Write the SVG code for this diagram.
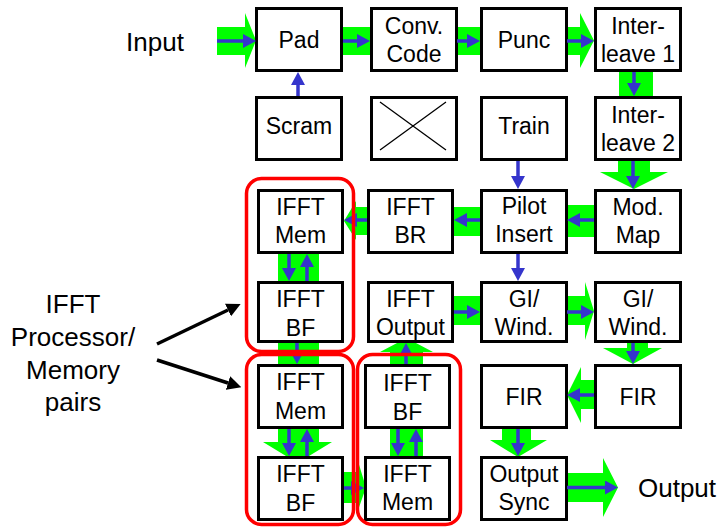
<svg xmlns="http://www.w3.org/2000/svg" width="720" height="529" viewBox="0 0 720 529">
  <style>
    .box { fill: #ffffff; stroke: #000000; stroke-width: 3; }
    .lbl { font-family: "Liberation Sans", Arial, sans-serif; font-size: 23px; fill: #000000; text-anchor: middle; }
    .big { font-family: "Liberation Sans", Arial, sans-serif; font-size: 26px; fill: #000000; text-anchor: middle; }
    .bus { fill: #00ff00; stroke: none; }
    .sig { stroke: #3535cc; stroke-width: 3.5; fill: none; marker-end: url(#bluehead); }
    .ptr { stroke: #000000; stroke-width: 3.5; fill: none; marker-end: url(#blackhead); }
    .pair { fill: none; stroke: #ff0000; stroke-width: 3.5; }
  </style>
  <defs>
    <marker id="bluehead" markerUnits="userSpaceOnUse" markerWidth="13" markerHeight="14" refX="0" refY="7" orient="auto">
      <path d="M0,0 L13,7 L0,14 Z" fill="#3535cc"/>
    </marker>
    <marker id="blackhead" markerUnits="userSpaceOnUse" markerWidth="14" markerHeight="14" refX="0" refY="7" orient="auto">
      <path d="M0,0 L14,7 L0,14 Z" fill="#000000"/>
    </marker>
  </defs>
  <rect width="720" height="529" fill="#ffffff"/>

  <!-- wide data paths (drawn beneath the blocks) -->
  <g id="datapaths">
    <path class="bus" d="M217,27 H245 V13 L256,40.5 L245,68 V55 H217 Z"/>
    <rect class="bus" x="341" y="27" width="32" height="28"/>
    <rect class="bus" x="455" y="27" width="28" height="28"/>
    <path class="bus" d="M565,27 H580 V13 L594,40.5 L580,68 V55 H565 Z"/>
    <rect class="bus" x="619" y="70" width="34" height="28"/>
    <path class="bus" d="M618,159 H650 V172 H668 L634,189 L600,172 H618 Z"/>
    <rect class="bus" x="565" y="205" width="31" height="32"/>
    <rect class="bus" x="452" y="207" width="30" height="29"/>
    <path class="bus" d="M369,207 H356 V201 L344,221 L356,240 V235 H369 Z"/>
    <rect class="bus" x="278" y="252" width="41" height="31"/>
    <rect class="bus" x="452" y="296" width="30" height="29"/>
    <path class="bus" d="M565,296 H585 V282 L594,311 L585,340 V325 H565 Z"/>
    <path class="bus" d="M627,341 H648 V348 H662 L633,364 L603,348 H627 Z"/>
    <path class="bus" d="M596,380 H581 V367 L567,395 L581,423 V409 H596 Z"/>
    <path class="bus" d="M502,427 H531 V440 H547 L518,457 L490,440 H502 Z"/>
    <path class="bus" d="M565,473 H603 V458 L618,487.5 L603,517 V502 H565 Z"/>
    <rect class="bus" x="278" y="341" width="41" height="25"/>
    <path class="bus" d="M278,427 H319 V442 H332 L297.5,463 L263,442 H278 Z"/>
    <path class="bus" d="M342,472 H357 V458 L366,487.5 L357,513 V503 H342 Z"/>
    <rect class="bus" x="390" y="427" width="33" height="31"/>
    <path class="bus" d="M390,366 H423 V352 H433 L406.5,338 L380,352 H390 Z"/>
  </g>

  <!-- row 1 -->
  <g id="pad"><rect class="box" x="256.5" y="8.5" width="85" height="62"/><text class="lbl" x="299" y="48">Pad</text></g>
  <g id="conv"><rect class="box" x="371.5" y="8.5" width="85" height="62"/><text class="lbl" x="414" y="34">Conv.</text><text class="lbl" x="414" y="62">Code</text></g>
  <g id="punc"><rect class="box" x="481.5" y="8.5" width="85" height="62"/><text class="lbl" x="524" y="48">Punc</text></g>
  <g id="interleave1"><rect class="box" x="595.5" y="8.5" width="85" height="62"/><text class="lbl" x="638" y="34">Inter-</text><text class="lbl" x="638" y="62">leave 1</text></g>

  <!-- row 2 -->
  <g id="scram"><rect class="box" x="256.5" y="97.5" width="85" height="62"/><text class="lbl" x="299" y="134">Scram</text></g>
  <g id="unused"><rect class="box" x="371.5" y="97.5" width="85" height="62"/><path d="M380,102 L446,150 M380,150 L446,102" stroke="#000000" stroke-width="1.3"/></g>
  <g id="train"><rect class="box" x="481.5" y="97.5" width="85" height="62"/><text class="lbl" x="524" y="134">Train</text></g>
  <g id="interleave2"><rect class="box" x="595.5" y="97.5" width="85" height="62"/><text class="lbl" x="638" y="123">Inter-</text><text class="lbl" x="638" y="151">leave 2</text></g>

  <!-- row 3 -->
  <g id="ifft-mem-1"><rect class="box" x="258.5" y="190.5" width="84" height="62"/><text class="lbl" x="300.5" y="215">IFFT</text><text class="lbl" x="300.5" y="243">Mem</text></g>
  <g id="ifft-br"><rect class="box" x="368.5" y="190.5" width="84" height="62"/><text class="lbl" x="410.5" y="215">IFFT</text><text class="lbl" x="410.5" y="243">BR</text></g>
  <g id="pilot"><rect class="box" x="481.5" y="190.5" width="85" height="62"/><text class="lbl" x="524" y="214">Pilot</text><text class="lbl" x="524" y="242">Insert</text></g>
  <g id="modmap"><rect class="box" x="595.5" y="190.5" width="85" height="62"/><text class="lbl" x="638" y="215">Mod.</text><text class="lbl" x="638" y="243">Map</text></g>

  <!-- row 4 -->
  <g id="ifft-bf-1"><rect class="box" x="258.5" y="282.5" width="84" height="59"/><text class="lbl" x="300.5" y="307">IFFT</text><text class="lbl" x="300.5" y="336">BF</text></g>
  <g id="ifft-output"><rect class="box" x="368.5" y="282.5" width="84" height="59"/><text class="lbl" x="410.5" y="307">IFFT</text><text class="lbl" x="410.5" y="335">Output</text></g>
  <g id="gi-wind-1"><rect class="box" x="481.5" y="282.5" width="85" height="59"/><text class="lbl" x="524" y="307">GI/</text><text class="lbl" x="524" y="335">Wind.</text></g>
  <g id="gi-wind-2"><rect class="box" x="595.5" y="282.5" width="85" height="59"/><text class="lbl" x="638" y="307">GI/</text><text class="lbl" x="638" y="335">Wind.</text></g>

  <!-- row 5 -->
  <g id="ifft-mem-2"><rect class="box" x="258.5" y="365.5" width="84" height="62"/><text class="lbl" x="300.5" y="390">IFFT</text><text class="lbl" x="300.5" y="419">Mem</text></g>
  <g id="ifft-bf-3"><rect class="box" x="365.5" y="365.5" width="84" height="62"/><text class="lbl" x="407.5" y="391">IFFT</text><text class="lbl" x="407.5" y="420">BF</text></g>
  <g id="fir-1"><rect class="box" x="481.5" y="365.5" width="85" height="62"/><text class="lbl" x="524" y="405">FIR</text></g>
  <g id="fir-2"><rect class="box" x="595.5" y="365.5" width="85" height="62"/><text class="lbl" x="638" y="405">FIR</text></g>

  <!-- row 6 -->
  <g id="ifft-bf-2"><rect class="box" x="258.5" y="457.5" width="84" height="62"/><text class="lbl" x="300.5" y="482">IFFT</text><text class="lbl" x="300.5" y="511">BF</text></g>
  <g id="ifft-mem-3"><rect class="box" x="365.5" y="457.5" width="84" height="62"/><text class="lbl" x="407.5" y="482">IFFT</text><text class="lbl" x="407.5" y="510">Mem</text></g>
  <g id="output-sync"><rect class="box" x="481.5" y="457.5" width="85" height="62"/><text class="lbl" x="524" y="482">Output</text><text class="lbl" x="524" y="510">Sync</text></g>

  <!-- signal arrows -->
  <g id="connectors">
    <line class="sig" x1="217" y1="41" x2="243" y2="41"/>
    <line class="sig" x1="343" y1="41" x2="357" y2="41"/>
    <line class="sig" x1="457" y1="41" x2="467" y2="41"/>
    <line class="sig" x1="567" y1="41" x2="581" y2="41"/>
    <line class="sig" x1="634" y1="72" x2="634" y2="83"/>
    <line class="sig" x1="633" y1="161" x2="633" y2="176"/>
    <line class="sig" x1="594" y1="220" x2="580" y2="220"/>
    <line class="sig" x1="480" y1="220" x2="467" y2="220"/>
    <line class="sig" x1="367" y1="220" x2="357" y2="220"/>
    <line class="sig" x1="298" y1="96" x2="298" y2="85"/>
    <line class="sig" x1="518" y1="161" x2="518" y2="176"/>
    <line class="sig" x1="518" y1="254" x2="518" y2="268"/>
    <line class="sig" x1="289" y1="254" x2="289" y2="268"/>
    <line class="sig" x1="307" y1="281" x2="307" y2="267"/>
    <line class="sig" x1="454" y1="312" x2="467" y2="312"/>
    <line class="sig" x1="567" y1="312" x2="581" y2="312"/>
    <line class="sig" x1="633" y1="343" x2="633" y2="351"/>
    <line class="sig" x1="594" y1="395" x2="580" y2="395"/>
    <line class="sig" x1="518" y1="429" x2="518" y2="443"/>
    <line class="sig" x1="567" y1="487.5" x2="605" y2="487.5"/>
    <line class="sig" x1="297" y1="343" x2="297" y2="351"/>
    <line class="sig" x1="289" y1="429" x2="289" y2="443"/>
    <line class="sig" x1="307" y1="456" x2="307" y2="442"/>
    <line class="sig" x1="344" y1="488" x2="351" y2="488"/>
    <line class="sig" x1="398" y1="429" x2="398" y2="443"/>
    <line class="sig" x1="416" y1="456" x2="416" y2="442"/>
    <line class="sig" x1="406" y1="364" x2="406" y2="356"/>
    <line class="ptr" x1="157" y1="344" x2="228" y2="310"/>
    <line class="ptr" x1="157" y1="360" x2="228" y2="383"/>
  </g>

  <!-- processor / memory pairings -->
  <g id="pairs">
    <rect class="pair" x="246.5" y="178.5" width="107" height="173" rx="15"/>
    <rect class="pair" x="246.5" y="354.5" width="107" height="170" rx="15"/>
    <rect class="pair" x="357.5" y="354.5" width="103" height="170" rx="15"/>
  </g>

  <g id="labels">
    <text class="big" x="155" y="51">Input</text>
    <text class="big" x="677" y="497">Output</text>
    <text class="big" x="73" y="313">IFFT</text>
    <text class="big" x="73" y="346">Processor/</text>
    <text class="big" x="73" y="379">Memory</text>
    <text class="big" x="73" y="411">pairs</text>
  </g>
</svg>
